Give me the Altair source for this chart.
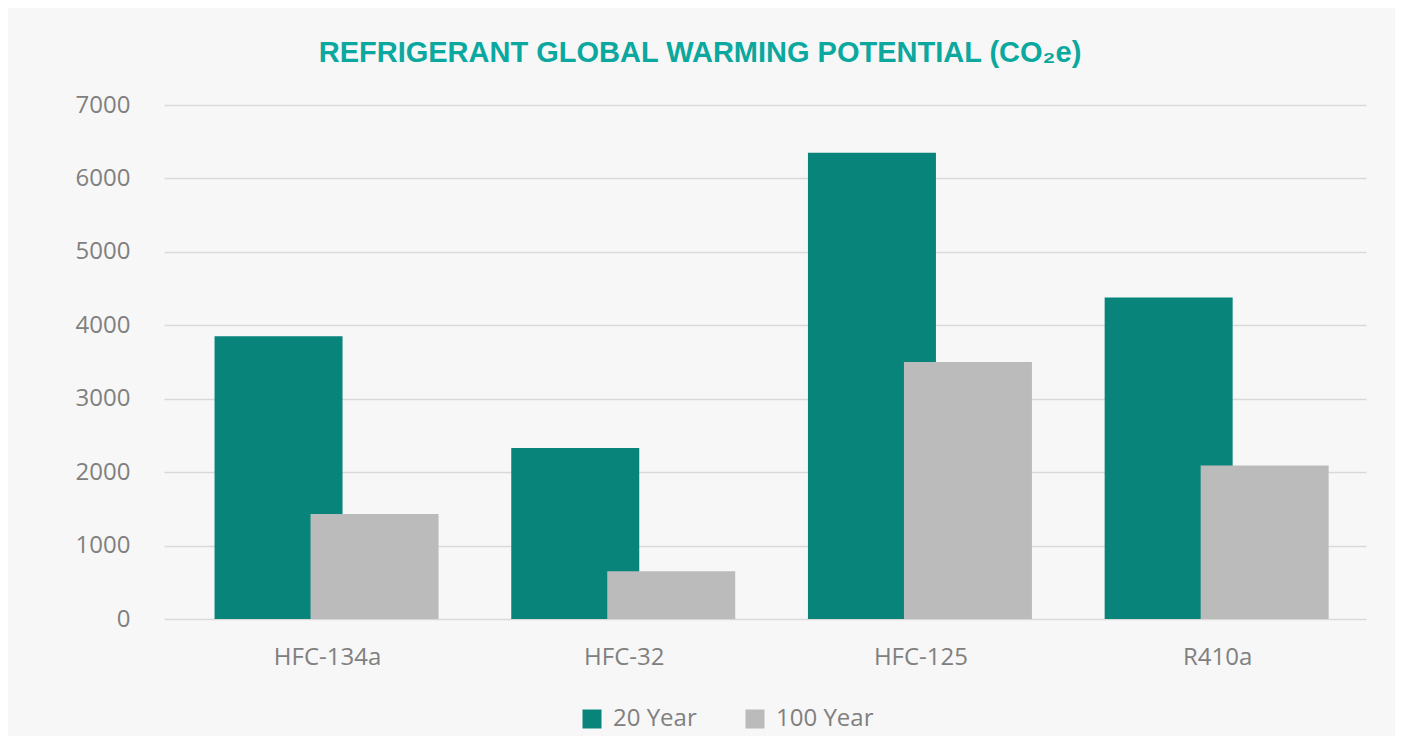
import altair as alt
import pandas as pd

categories = ["HFC-134a", "HFC-32", "HFC-125", "R410a"]
series_names = ["20 Year", "100 Year"]
yr20 = [3850, 2330, 6350, 4380]
yr100 = [1430, 650, 3500, 2090]
y_ticks = [0, 1000, 2000, 3000, 4000, 5000, 6000, 7000]

df = pd.DataFrame({
    "refrigerant": categories * 2,
    "series": [series_names[0]] * len(categories) + [series_names[1]] * len(categories),
    "gwp": yr20 + yr100,
})

TEXT_GRAY = "#808080"
FONT = "Open Sans"

x = alt.X(
    "refrigerant:N",
    sort=categories,
    scale=alt.Scale(paddingInner=0, paddingOuter=0.0256, align=1),
    axis=alt.Axis(title=None, labelAngle=0, ticks=False, domain=False, grid=False,
                  labelFont=FONT, labelFontSize=24, labelColor=TEXT_GRAY, labelPadding=26),
)
y = alt.Y(
    "gwp:Q",
    scale=alt.Scale(domain=[0, 7000]),
    axis=alt.Axis(title=None, values=y_ticks, format="d", ticks=False, domain=False, grid=True,
                  gridColor="#d9d9d9", gridWidth=1.3,
                  labelFont=FONT, labelFontSize=24, labelColor=TEXT_GRAY, labelPadding=34),
)
color = alt.Color(
    "series:N",
    scale=alt.Scale(domain=series_names, range=["#08847a", "#bbbbbb"]),
    legend=alt.Legend(title=None, orient="none", legendX=416, legendY=602,
                      direction="horizontal", symbolType="square", symbolSize=361,
                      symbolStrokeWidth=0, symbolOpacity=1,
                      labelFont=FONT, labelFontSize=24, labelColor=TEXT_GRAY,
                      labelOffset=9, columnPadding=46),
)

base = alt.Chart(df)
teal = base.transform_filter(alt.datum.series == "20 Year").mark_bar(width=128, xOffset=-49).encode(x=x, y=y, color=color)
gray = base.transform_filter(alt.datum.series == "100 Year").mark_bar(width=128, xOffset=47).encode(x=x, y=y, color=color)

chart = alt.layer(teal, gray).properties(
    width=1202,
    height=514,
    autosize="none",
    padding={"left": 156, "top": 97, "right": 29, "bottom": 117},
    background="#f7f7f7",
    title=alt.TitleParams(
        text="REFRIGERANT GLOBAL WARMING POTENTIAL (CO₂e)",
        font="Liberation Sans", fontSize=29, fontWeight="bold", color="#0aa89e",
        anchor="middle", frame="group", dx=-65, offset=25,
    ),
).configure_view(stroke=None)

chart.save("out.html", embed_options={"renderer": "svg", "actions": False})
